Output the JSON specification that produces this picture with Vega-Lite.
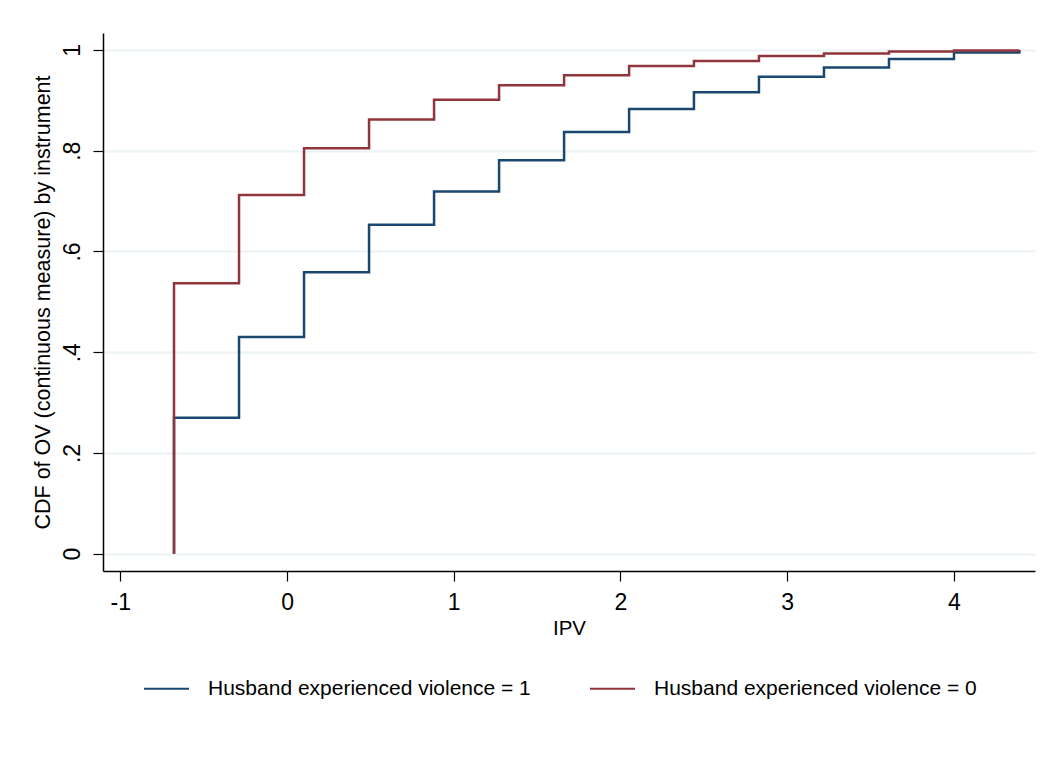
{
  "$schema": "https://vega.github.io/schema/vega-lite/v6.json",
  "width": 932,
  "height": 538,
  "autosize": {"type": "none"},
  "padding": {"left": 103, "top": 33, "right": 13, "bottom": 201},
  "background": "white",
  "config": {
    "view": {"stroke": null},
    "font": "Liberation Sans",
    "axis": {
      "domainColor": "black",
      "domainWidth": 1.5,
      "tickColor": "black",
      "tickWidth": 1.2,
      "tickSize": 10,
      "labelColor": "black",
      "titleColor": "black",
      "labelFont": "Liberation Sans",
      "titleFont": "Liberation Sans",
      "titleFontWeight": "normal"
    }
  },
  "data": {
    "values": [
      {"i": 0, "x": -0.678, "y": 0, "g": "Husband experienced violence = 1"},
      {"i": 1, "x": -0.678, "y": 0.270, "g": "Husband experienced violence = 1"},
      {"i": 2, "x": -0.288, "y": 0.430, "g": "Husband experienced violence = 1"},
      {"i": 3, "x": 0.102, "y": 0.559, "g": "Husband experienced violence = 1"},
      {"i": 4, "x": 0.492, "y": 0.653, "g": "Husband experienced violence = 1"},
      {"i": 5, "x": 0.882, "y": 0.719, "g": "Husband experienced violence = 1"},
      {"i": 6, "x": 1.272, "y": 0.781, "g": "Husband experienced violence = 1"},
      {"i": 7, "x": 1.662, "y": 0.837, "g": "Husband experienced violence = 1"},
      {"i": 8, "x": 2.052, "y": 0.883, "g": "Husband experienced violence = 1"},
      {"i": 9, "x": 2.441, "y": 0.916, "g": "Husband experienced violence = 1"},
      {"i": 10, "x": 2.831, "y": 0.947, "g": "Husband experienced violence = 1"},
      {"i": 11, "x": 3.221, "y": 0.965, "g": "Husband experienced violence = 1"},
      {"i": 12, "x": 3.611, "y": 0.982, "g": "Husband experienced violence = 1"},
      {"i": 13, "x": 4.001, "y": 0.995, "g": "Husband experienced violence = 1"},
      {"i": 14, "x": 4.393, "y": 1.0, "g": "Husband experienced violence = 1"},
      {"i": 0, "x": -0.678, "y": 0, "g": "Husband experienced violence = 0"},
      {"i": 1, "x": -0.678, "y": 0.537, "g": "Husband experienced violence = 0"},
      {"i": 2, "x": -0.288, "y": 0.712, "g": "Husband experienced violence = 0"},
      {"i": 3, "x": 0.102, "y": 0.805, "g": "Husband experienced violence = 0"},
      {"i": 4, "x": 0.492, "y": 0.862, "g": "Husband experienced violence = 0"},
      {"i": 5, "x": 0.882, "y": 0.901, "g": "Husband experienced violence = 0"},
      {"i": 6, "x": 1.272, "y": 0.930, "g": "Husband experienced violence = 0"},
      {"i": 7, "x": 1.662, "y": 0.950, "g": "Husband experienced violence = 0"},
      {"i": 8, "x": 2.052, "y": 0.968, "g": "Husband experienced violence = 0"},
      {"i": 9, "x": 2.441, "y": 0.978, "g": "Husband experienced violence = 0"},
      {"i": 10, "x": 2.831, "y": 0.988, "g": "Husband experienced violence = 0"},
      {"i": 11, "x": 3.221, "y": 0.993, "g": "Husband experienced violence = 0"},
      {"i": 12, "x": 3.611, "y": 0.997, "g": "Husband experienced violence = 0"},
      {"i": 13, "x": 4.001, "y": 0.999, "g": "Husband experienced violence = 0"},
      {"i": 14, "x": 4.393, "y": 1.0, "g": "Husband experienced violence = 0"}
    ]
  },
  "mark": {"type": "line", "interpolate": "step-after", "strokeWidth": 2.5, "clip": true},
  "encoding": {
    "x": {
      "field": "x",
      "type": "quantitative",
      "scale": {"domain": [-1.104, 4.487], "nice": false, "zero": false},
      "axis": {
        "title": "IPV",
        "values": [-1, 0, 1, 2, 3, 4],
        "grid": false,
        "labelFontSize": 23,
        "labelPadding": 10,
        "titleFontSize": 20.5,
        "titlePadding": 4,
        "labelExpr": "datum.value < 0 ? '-' + abs(datum.value) : '' + datum.value"
      }
    },
    "y": {
      "field": "y",
      "type": "quantitative",
      "scale": {"domain": [-0.0343, 1.0337], "nice": false, "zero": false},
      "axis": {
        "title": "CDF of OV (continuous measure) by instrument",
        "values": [0, 0.2, 0.4, 0.6, 0.8, 1],
        "grid": true,
        "gridColor": "#eaf2f3",
        "gridWidth": 1.8,
        "labelAngle": -90,
        "labelAlign": "center",
        "labelBaseline": "bottom",
        "labelFontSize": 23,
        "labelPadding": 9,
        "labelExpr": "datum.value == 0 ? '0' : datum.value == 1 ? '1' : replace(format(datum.value, '.1f'), '0.', '.')",
        "titleFontSize": 21.5,
        "titlePadding": 7
      }
    },
    "color": {
      "field": "g",
      "type": "nominal",
      "scale": {
        "domain": ["Husband experienced violence = 1", "Husband experienced violence = 0"],
        "range": ["#1a476f", "#90353b"]
      },
      "legend": {
        "title": null,
        "orient": "none",
        "legendX": 40,
        "legendY": 632,
        "direction": "horizontal",
        "symbolType": "stroke",
        "symbolSize": 2025,
        "symbolStrokeWidth": 2,
        "labelFontSize": 21,
        "labelColor": "black",
        "labelFont": "Liberation Sans",
        "labelOffset": 18,
        "columnPadding": 55,
        "labelLimit": 500
      }
    },
    "order": {"field": "i", "type": "quantitative"}
  }
}
